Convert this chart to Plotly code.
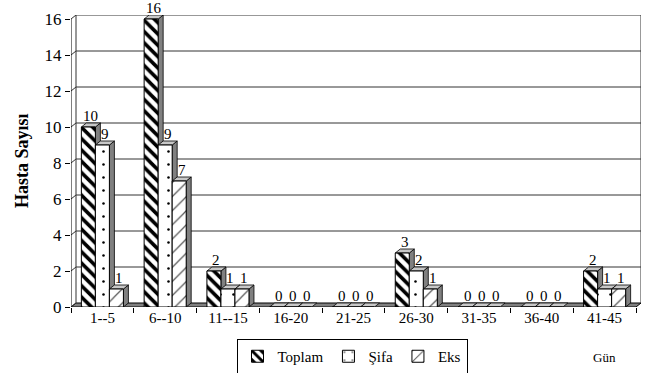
import plotly.graph_objects as go

# Patient counts per day interval
categories = ["1--5", "6--10", "11--15", "16-20", "21-25", "26-30", "31-35", "36-40", "41-45"]
toplam = [10, 16, 2, 0, 0, 3, 0, 0, 2]
sifa = [9, 9, 1, 0, 0, 2, 0, 0, 1]
eks = [1, 7, 1, 0, 0, 1, 0, 0, 1]
series_names = ["Toplam", "Şifa", "Eks"]
y_ticks = [0, 2, 4, 6, 8, 10, 12, 14, 16]

FONT = "Liberation Serif"
W, H = 647, 373
L, R, T, B = 71, 6, 15, 66
plot_w = W - L - R
plot_h = H - T - B

n = len(categories)
depth_px_x, depth_px_y = 5, 4
cat_px = (plot_w - depth_px_x) / n
dx = depth_px_x / cat_px
ymax = 16
dy = depth_px_y / ((plot_h - depth_px_y) / ymax)
y_top = ymax + dy

bargap = 0.33
bw = (1 - bargap) / 3

patterns = [
    dict(shape="\\", size=8, solidity=0.45, fgcolor="black", bgcolor="white", fillmode="replace"),
    dict(shape=".", size=13, solidity=0.03, fgcolor="black", bgcolor="white", fillmode="replace"),
    dict(shape="/", size=10, solidity=0.12, fgcolor="#555555", bgcolor="white", fillmode="replace"),
]
data = [toplam, sifa, eks]

fig = go.Figure()
x_idx = list(range(n))
for name, vals, pat in zip(series_names, data, patterns):
    fig.add_trace(go.Bar(
        x=x_idx, y=vals, name=name,
        marker=dict(color="white", pattern=pat, line=dict(color="black", width=1)),
        hoverinfo="skip",
    ))

shapes = []
line_col = "#333333"

def path(pts):
    return "M " + " L ".join(f"{x},{y}" for x, y in pts) + " Z"

# floor
shapes.append(dict(type="path", xref="x", yref="y", layer="below",
                   path=path([(-0.5, 0), (n - 0.5, 0), (n - 0.5 + dx, dy), (-0.5 + dx, dy)]),
                   fillcolor="#808080", line=dict(color="black", width=1)))
# back wall gridlines and left wall diagonals
for v in y_ticks:
    if v > 0:
        shapes.append(dict(type="line", xref="x", yref="y", layer="below",
                           x0=-0.5 + dx, x1=n - 0.5 + dx, y0=v + dy, y1=v + dy,
                           line=dict(color=line_col, width=1)))
    shapes.append(dict(type="line", xref="x", yref="y", layer="below",
                       x0=-0.5, x1=-0.5 + dx, y0=v, y1=v + dy,
                       line=dict(color=line_col, width=1)))
# wall edges
for xv in (-0.5 + dx, n - 0.5 + dx):
    shapes.append(dict(type="line", xref="x", yref="y", layer="below",
                       x0=xv, x1=xv, y0=dy, y1=ymax + dy,
                       line=dict(color=line_col, width=1)))
# front value axis
shapes.append(dict(type="line", xref="x", yref="y", layer="below",
                   x0=-0.5, x1=-0.5, y0=0, y1=ymax, line=dict(color="black", width=1)))

# 3D side and top faces of each bar, plus value labels
annotations = []
for i in range(n):
    for k, vals in enumerate(data):
        v = vals[i]
        xl = i - 1.5 * bw + k * bw
        xr = xl + bw
        if v > 0:
            shapes.append(dict(type="path", xref="x", yref="y", layer="below",
                               path=path([(xr, 0), (xr + dx, dy), (xr + dx, v + dy), (xr, v)]),
                               fillcolor="#808080", line=dict(color="black", width=0.8)))
        shapes.append(dict(type="path", xref="x", yref="y", layer="below",
                           path=path([(xl, v), (xr, v), (xr + dx, v + dy), (xl + dx, v + dy)]),
                           fillcolor="#c8c8c8", line=dict(color="black", width=0.8)))
        annotations.append(dict(x=(xl + xr) / 2 + dx / 2, y=v + dy, xref="x", yref="y",
                                text=str(v), showarrow=False, yanchor="bottom", yshift=-3,
                                font=dict(family=FONT, size=15, color="black")))

annotations.append(dict(text="<b>Hasta Sayısı</b>", xref="paper", yref="paper",
                        x=(22 - L) / plot_w, y=(H - B - 161) / plot_h, textangle=-90,
                        xanchor="center", yanchor="middle", showarrow=False,
                        font=dict(family=FONT, size=18, color="black")))
annotations.append(dict(text="Gün", xref="paper", yref="paper",
                        x=(604 - L) / plot_w, y=(H - B - 357) / plot_h,
                        xanchor="center", yanchor="middle", showarrow=False,
                        font=dict(family=FONT, size=13, color="black")))

fig.update_layout(
    width=W, height=H,
    margin=dict(l=L, r=R, t=T, b=B, autoexpand=False),
    paper_bgcolor="white", plot_bgcolor="white",
    barmode="group", bargap=bargap, bargroupgap=0,
    font=dict(family=FONT, size=15, color="black"),
    shapes=shapes, annotations=annotations,
    showlegend=True,
    legend=dict(orientation="h", x=(352 - L) / plot_w, xanchor="center",
                y=(H - B - 339) / plot_h, yanchor="top",
                bordercolor="black", borderwidth=1,
                font=dict(family=FONT, size=15, color="black"),
                itemwidth=30, tracegroupgap=0),
    xaxis=dict(range=[-0.5, n - 0.5 + dx], tickvals=x_idx, ticktext=categories,
               ticks="", showgrid=False, zeroline=False, showline=False,
               automargin=False,
               tickfont=dict(family=FONT, size=15),
               minor=dict(tick0=0.5, dtick=1, ticks="outside", ticklen=5,
                          tickcolor="black", showgrid=False)),
    yaxis=dict(range=[0, y_top], tickvals=y_ticks, ticks="outside", ticklen=5,
               tickcolor="black", showgrid=False, zeroline=False, showline=False,
               automargin=False,
               tickfont=dict(family=FONT, size=17)),
)

fig.write_html("out.html")
